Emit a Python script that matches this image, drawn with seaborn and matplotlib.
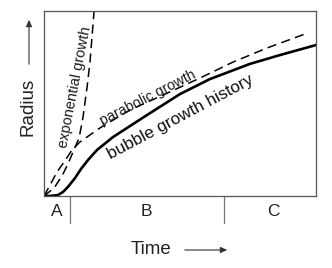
import matplotlib
matplotlib.use("Agg")
import matplotlib.pyplot as plt
import seaborn as sns
import pandas as pd

# ---- data (arbitrary units: time 0-10, radius 0-10) ----
bubble_t = [0, 0.22, 0.51, 0.70, 0.88, 1.14, 1.36, 1.62, 1.95, 2.54, 3.79, 5.00, 6.10, 7.57, 8.68, 10.0]
bubble_r = [0, 0.0, 0.05, 0.22, 0.49, 0.97, 1.46, 1.95, 2.49, 3.19, 4.38, 5.51, 6.32, 7.14, 7.62, 8.16]

parab_t = [0, 0.22, 0.48, 0.74, 1.03, 1.32, 2.06, 3.16, 4.38, 5.74, 6.95, 8.20, 9.60]
parab_r = [0, 0.59, 1.30, 1.84, 2.49, 2.92, 3.68, 4.65, 5.46, 6.38, 7.24, 8.00, 8.76]

expo_t = [0, 0.37, 0.66, 0.88, 1.10, 1.29, 1.43, 1.58, 1.69, 1.80, 1.84]
expo_r = [0, 0.43, 1.08, 1.73, 2.49, 3.14, 4.22, 5.84, 7.24, 9.24, 10.0]

stage_labels = ["A", "B", "C"]
stage_centers = [0.48, 3.75, 8.42]
stage_bounds = [0.96, 6.62]

curve_labels = ["exponential growth", "parabolic growth", "bubble growth history"]

sns.set_theme(style="white")
plt.rcParams["font.family"] = ["Liberation Sans", "DejaVu Sans"]

fig = plt.figure(figsize=(3.32, 2.68), dpi=100)
ax = fig.add_axes([44 / 332, 1 - 196 / 268, 272 / 332, 185 / 268])

df_b = pd.DataFrame({"t": bubble_t, "r": bubble_r})
df_p = pd.DataFrame({"t": parab_t, "r": parab_r})
df_e = pd.DataFrame({"t": expo_t, "r": expo_r})

sns.lineplot(data=df_b, x="t", y="r", ax=ax, color="black", lw=1.9, sort=False)
sns.lineplot(data=df_p, x="t", y="r", ax=ax, color="black", lw=1.1, sort=False,
             linestyle=(0, (6, 3.5)))
sns.lineplot(data=df_e, x="t", y="r", ax=ax, color="black", lw=1.1, sort=False,
             linestyle=(0, (6, 3.5)))

ax.set_xlim(0, 10)
ax.set_ylim(0, 10)
ax.set_xticks([])
ax.set_yticks([])
ax.set_xlabel("")
ax.set_ylabel("")
for s in ax.spines.values():
    s.set_visible(True)
    s.set_color("#555555")
    s.set_linewidth(0.9)

# curve labels
ax.text(1.12, 5.9, curve_labels[0], rotation=79, ha="center", va="center",
        rotation_mode="anchor", fontsize=10.5, color="#1a1a1a")
ax.text(3.82, 5.30, curve_labels[1], rotation=27, ha="center", va="center",
        rotation_mode="anchor", fontsize=10.3, color="#1a1a1a")
ax.text(5.0, 4.27, curve_labels[2], rotation=28, ha="center", va="center",
        rotation_mode="anchor", fontsize=12.3, color="#111111")

# stage separators and labels
trans = ax.get_xaxis_transform()
for xb in stage_bounds:
    ax.plot([xb, xb], [0, -0.145], transform=trans, color="#777777", lw=0.9, clip_on=False)
for lab, xc in zip(stage_labels, stage_centers):
    ax.text(xc, -0.082, lab, transform=trans, ha="center", va="center", fontsize=12.5, color="#222222")

# axis titles with arrows
fig.text(151 / 332, 1 - 250 / 268, "Time", ha="center", va="center", fontsize=13.5, color="#222222")
fig.patches.append(matplotlib.patches.FancyArrowPatch(
    (182 / 332, 1 - 250 / 268), (230 / 332, 1 - 250 / 268), transform=fig.transFigure,
    arrowstyle="-|>,head_length=4,head_width=1.8", color="#333333", lw=0.8))

fig.text(28 / 332, 1 - 107 / 268, "Radius", ha="center", va="center", rotation=90,
         fontsize=13.5, color="#222222")
fig.patches.append(matplotlib.patches.FancyArrowPatch(
    (29 / 332, 1 - 67 / 268), (29 / 332, 1 - 17 / 268), transform=fig.transFigure,
    arrowstyle="-|>,head_length=4,head_width=1.8", color="#333333", lw=0.8))

fig.savefig("out.png", dpi=100, facecolor="white")
